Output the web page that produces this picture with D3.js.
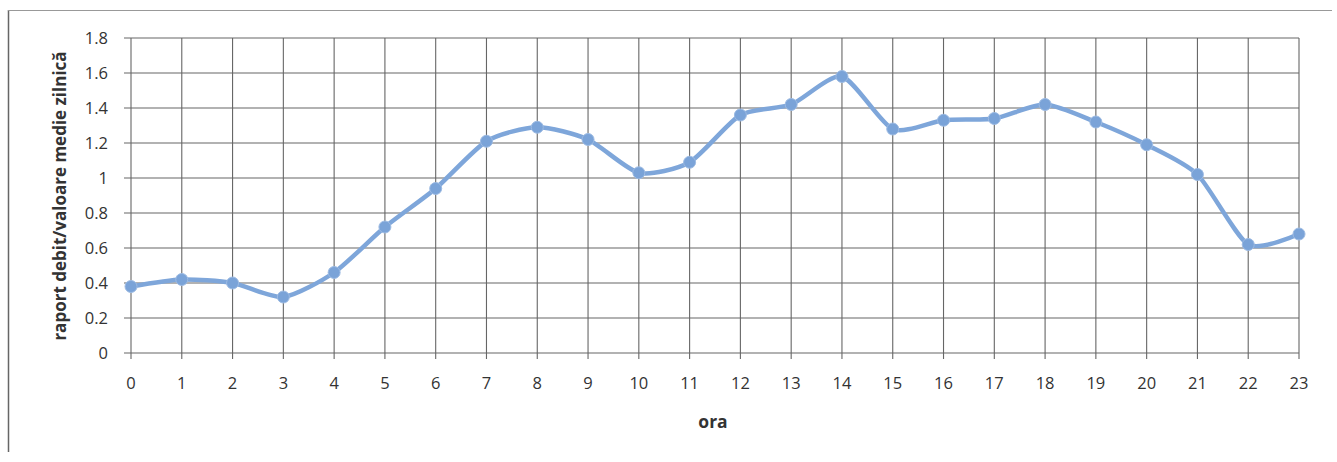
<!DOCTYPE html>
<html><head><meta charset="utf-8">
<script src="https://cdn.jsdelivr.net/npm/d3@7"></script>
<style>body{margin:0;background:#fff}svg{display:block}</style>
</head><body>
<svg id="c" width="1337" height="462"></svg>
<script>
const hours = [0,1,2,3,4,5,6,7,8,9,10,11,12,13,14,15,16,17,18,19,20,21,22,23];
const ratios = [0.38,0.42,0.40,0.32,0.46,0.72,0.94,1.21,1.29,1.22,1.03,1.09,1.36,1.42,1.58,1.28,1.33,1.34,1.42,1.32,1.19,1.02,0.62,0.68];
const yTicks = [0,0.2,0.4,0.6,0.8,1,1.2,1.4,1.6,1.8];
const xTitle = "ora";
const yTitle = "raport debit/valoare medie zilnică";

const svg = d3.select("#c");
const font = "'Open Sans', 'DejaVu Sans', sans-serif";
// frame
svg.append("line").attr("x1",8.5).attr("x2",8.5).attr("y1",10).attr("y2",452).attr("stroke","#666").attr("stroke-width",1.5);
svg.append("line").attr("x1",8).attr("x2",1332).attr("y1",10.5).attr("y2",10.5).attr("stroke","#999").attr("stroke-width",1.2);

const x = d3.scaleLinear().domain([0,23]).range([131,1299]);
const y = d3.scaleLinear().domain([0,1.8]).range([353,38]);

const grid = svg.append("g").attr("stroke","#666").attr("stroke-width",1.1);
grid.selectAll("line.h").data(yTicks).join("line")
  .attr("x1",124).attr("x2",x(23)).attr("y1",d=>y(d)).attr("y2",d=>y(d));
grid.selectAll("line.v").data(hours).join("line")
  .attr("x1",d=>x(d)).attr("x2",d=>x(d)).attr("y1",y(1.8)).attr("y2",y(0)+6);

svg.append("g").selectAll("text").data(yTicks).join("text")
  .attr("x",108).attr("y",d=>y(d)).attr("dy","0.35em").attr("text-anchor","end")
  .attr("font-family",font).attr("font-size",16.5).attr("fill","#333")
  .text(d=>d3.format("")(d));
svg.append("g").selectAll("text").data(hours).join("text")
  .attr("x",d=>x(d)).attr("y",389).attr("text-anchor","middle")
  .attr("font-family",font).attr("font-size",16.5).attr("fill","#333")
  .text(d=>d);

svg.append("text").attr("x",713).attr("y",428).attr("text-anchor","middle")
  .attr("font-family",font).attr("font-size",17.5).attr("font-weight","bold").attr("fill","#333").text(xTitle);
svg.append("text").attr("transform","translate(66,196) rotate(-90)").attr("text-anchor","middle")
  .attr("font-family",font).attr("font-size",17).attr("font-weight","bold").attr("fill","#333").text(yTitle);

const line = d3.line().x((d,i)=>x(hours[i])).y(d=>y(d)).curve(d3.curveCardinal.tension(0.3));
svg.append("path").datum(ratios).attr("d",line).attr("fill","none")
  .attr("stroke","#7ea6da").attr("stroke-width",4.5).attr("stroke-linecap","round");
svg.append("g").selectAll("circle").data(ratios).join("circle")
  .attr("cx",(d,i)=>x(hours[i])).attr("cy",d=>y(d)).attr("r",6)
  .attr("fill","#7aa3d8").attr("stroke","#9dbbe3").attr("stroke-width",1);
</script>
</body></html>
